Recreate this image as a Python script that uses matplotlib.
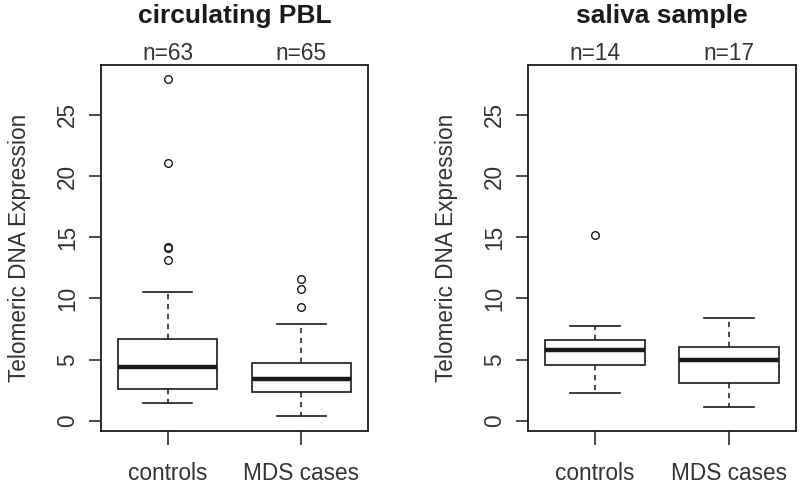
import matplotlib
matplotlib.use("Agg")
import matplotlib.pyplot as plt
from matplotlib.patches import Rectangle

plt.rcParams['font.family'] = ['Liberation Sans', 'DejaVu Sans']

groups = ["controls", "MDS cases"]
titles = ["circulating PBL", "saliva sample"]
counts = [["n=63", "n=65"], ["n=14", "n=17"]]
ylabel = "Telomeric DNA Expression"
yticks = [0, 5, 10, 15, 20, 25]

# per panel, per group: (lower whisker, Q1, median, Q3, upper whisker)
stats_pbl = [(1.42, 2.59, 4.36, 6.71, 10.5), (0.38, 2.35, 3.43, 4.69, 7.93)]
outliers_pbl = [[27.97, 21.05, 14.2, 14.1, 13.1], [11.61, 10.79, 9.27]]
stats_sal = [(2.24, 4.58, 5.78, 6.6, 7.77), (1.1, 3.06, 4.96, 6.0, 8.37)]
outliers_sal = [[15.16], []]

panels = [(stats_pbl, outliers_pbl), (stats_sal, outliers_sal)]
ax_pos = [[0.12625, 0.1095, 0.33375, 0.7562], [0.66, 0.1095, 0.335, 0.7562]]

col = '#1a1a1a'
txt = '#333333'
fs = 16.3
fig = plt.figure(figsize=(8, 4.84), dpi=100)
boxw = 0.74

for p, (stats, outs) in enumerate(panels):
    ax = fig.add_axes(ax_pos[p])
    ax.set_xlim(0.5, 2.5)
    ax.set_ylim(-0.84, 29.08)
    for i, (lw_, q1, med, q3, uw) in enumerate(stats):
        x = i + 1
        ax.add_patch(Rectangle((x - boxw / 2, q1), boxw, q3 - q1, fill=False,
                               edgecolor=col, lw=1.2, zorder=3))
        ax.plot([x - boxw / 2, x + boxw / 2], [med, med], color=col, lw=3.2,
                solid_capstyle='butt', zorder=4)
        ax.plot([x, x], [q3, uw], color=col, lw=1.1, dashes=(3.5, 3), zorder=2)
        ax.plot([x, x], [q1, lw_], color=col, lw=1.1, dashes=(3.5, 3), zorder=2)
        ax.plot([x - boxw / 4, x + boxw / 4], [uw, uw], color=col, lw=1.2, zorder=3)
        ax.plot([x - boxw / 4, x + boxw / 4], [lw_, lw_], color=col, lw=1.2, zorder=3)
        if outs[i]:
            ax.plot([x] * len(outs[i]), outs[i], 'o', mfc='none', mec=col,
                    ms=5.5, mew=1.0, zorder=5)
        ax.text(x, 1.0, counts[p][i], transform=ax.get_xaxis_transform(),
                ha='center', va='bottom', fontsize=fs, color=txt)
    ax.set_xticks([1, 2])
    ax.set_xticklabels(groups, fontsize=fs, color=txt)
    ax.set_yticks(yticks)
    ax.set_yticklabels([str(t) for t in yticks], fontsize=fs, color=txt,
                       rotation=90, va='center')
    ax.tick_params(axis='y', length=9, width=1.1, color=col, pad=7)
    ax.tick_params(axis='x', length=10, width=1.1, color=col, pad=12)
    for s in ax.spines.values():
        s.set_linewidth(1.3)
        s.set_color(col)
    ax.set_ylabel(ylabel, fontsize=fs, color=txt, labelpad=18)
    ax.set_title(titles[p], fontsize=19, fontweight='bold', color=col, pad=30)

fig.savefig("out.png", dpi=100, facecolor='white')
